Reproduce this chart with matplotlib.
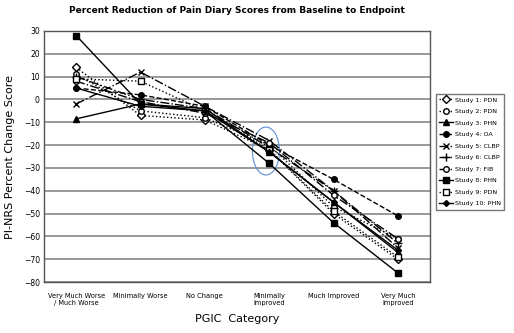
import matplotlib
matplotlib.use('Agg')
import matplotlib.pyplot as plt
from matplotlib.patches import Ellipse

categories = ['Very Much Worse\n/ Much Worse', 'Minimally Worse', 'No Change',
              'Minimally\nImproved', 'Much Improved', 'Very Much\nImproved']

study_labels = ['Study 1: PDN', 'Study 2: PDN', 'Study 3: PHN', 'Study 4: OA',
                'Study 5: CLBP', 'Study 6: CLBP', 'Study 7: FIB', 'Study 8: PHN',
                'Study 9: PDN', 'Study 10: PHN']

study1 = [14, -7, -9, -22, -50, -70]
study2 = [11, -5, -8, -20, -47, -61]
study3 = [-8.5, -2, -4, -23, -45, -67]
study4 = [5, 2, -3, -20, -35, -51]
study5 = [-2, 12, -3, -18, -40, -65]
study6 = [10, 0, -4, -21, -40, -63]
study7 = [8, -1, -6, -19, -42, -61]
study8 = [28, -2, -5, -28, -54, -76]
study9 = [9, 8, -5, -22, -49, -69]
study10 = [5, -3, -5, -23, -45, -66]

series = [study1, study2, study3, study4, study5, study6, study7, study8, study9, study10]

# line style, marker, marker face, marker size
styles = [
    (':', 'D', 'white', 4),
    (':', 'o', 'white', 4),
    ('-', '^', 'black', 4),
    ('--', 'o', 'black', 4),
    ('-.', 'x', 'black', 5),
    ('-.', '+', 'black', 6),
    ('-.', 'o', 'white', 4),
    ('-', 's', 'black', 5),
    (':', 's', 'white', 4),
    ('-', 'D', 'black', 3),
]

fig = plt.figure(figsize=(5.14, 3.33), dpi=100)
ax = fig.add_axes([0.0856, 0.153, 0.751, 0.754])

x = list(range(len(categories)))
for vals, lab, (ls, mk, fc, ms) in zip(series, study_labels, styles):
    ax.plot(x, vals, linestyle=ls, marker=mk, color='black', markerfacecolor=fc,
            markeredgecolor='black', markersize=ms, linewidth=1, label=lab)

ax.add_patch(Ellipse((2.95, -22.6), 0.42, 21, fill=False, edgecolor='#5b8fd0', linewidth=0.8))

ax.set_xlim(-0.5, 5.5)
ax.set_ylim(-80, 30)
ax.set_yticks(range(-80, 31, 10))
ax.set_xticks(x)
ax.set_xticklabels(categories, fontsize=4.8)
ax.tick_params(axis='y', labelsize=5.5, length=0, pad=3)
ax.tick_params(axis='x', length=0, pad=8)
ax.yaxis.grid(True, color='#888888', linewidth=1.2)
ax.set_axisbelow(True)
for s in ax.spines.values():
    s.set_color('#555555')
    s.set_linewidth(1)

ax.set_ylabel('PI-NRS Percent Change Score', fontsize=8, labelpad=6)
ax.set_xlabel('PGIC  Category', fontsize=8, labelpad=6)
fig.text(0.46, 0.968, 'Percent Reduction of Pain Diary Scores from Baseline to Endpoint',
         ha='center', va='center', fontsize=6.5, fontweight='bold')

fig.legend(loc='upper left', bbox_to_anchor=(0.848, 0.718), fontsize=4.6,
           frameon=True, fancybox=False, edgecolor='#555555', handlelength=2.2,
           labelspacing=0.95, borderpad=0.5, handletextpad=0.3, borderaxespad=0)

fig.savefig('out.png', dpi=100)
